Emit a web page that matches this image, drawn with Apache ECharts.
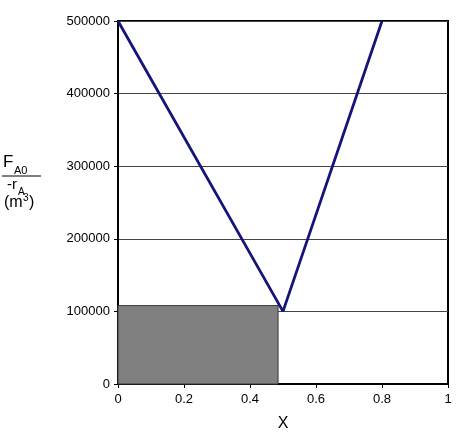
<!DOCTYPE html>
<html>
<head>
<meta charset="utf-8">
<script src="https://cdn.jsdelivr.net/npm/echarts@6/dist/echarts.min.js"></script>
<style>html,body{margin:0;padding:0;background:#fff;}#c{width:468px;height:445px;}</style>
</head>
<body>
<div id="c"></div>
<script>
var lineX = [0, 0.5, 0.8];
var lineY = [500000, 100000, 500000];
var rectX = [0, 0.485];
var rectY = [0, 108000];
var xTicks = [0, 0.2, 0.4, 0.6, 0.8, 1];
var yTicks = [0, 100000, 200000, 300000, 400000, 500000];

var chart = echarts.init(document.getElementById('c'));
var font = 'Liberation Sans, Arial, sans-serif';
chart.setOption({
  animation: false,
  backgroundColor: '#fff',
  grid: {left: 118, right: 20, top: 21, bottom: 61, show: true, borderColor: '#000', borderWidth: 2, backgroundColor: 'transparent'},
  xAxis: {
    type: 'value', min: 0, max: 1, interval: 0.2,
    name: 'X', nameLocation: 'middle', nameGap: 32,
    nameTextStyle: {fontFamily: font, fontSize: 16, color: '#000'},
    axisLine: {lineStyle: {color: '#000', width: 2}},
    axisTick: {show: true, length: 4, lineStyle: {color: '#000'}},
    axisLabel: {fontFamily: font, fontSize: 13, color: '#000', margin: 9,
      formatter: function(v){ return String(+v.toFixed(1)); }},
    splitLine: {show: false}
  },
  yAxis: {
    type: 'value', min: 0, max: 500000, interval: 100000,
    axisLine: {show: true, lineStyle: {color: '#000', width: 2}},
    axisTick: {show: true, length: 4, lineStyle: {color: '#000'}},
    axisLabel: {fontFamily: font, fontSize: 13, color: '#000', margin: 8,
      formatter: function(v){ return String(v); }},
    splitLine: {show: true, lineStyle: {color: '#444', width: 1}}
  },
  series: [
    {
      type: 'custom',
      z: 1,
      renderItem: function(params, api){
        var p0 = api.coord([api.value(0), api.value(1)]);
        var p1 = api.coord([api.value(2), api.value(3)]);
        return {type: 'rect', shape: {x: p0[0], y: p1[1], width: p1[0]-p0[0], height: p0[1]-p1[1]},
          style: {fill: '#808080', stroke: '#3a3a3a', lineWidth: 1}};
      },
      data: [[rectX[0], rectY[0], rectX[1], rectY[1]]]
    },
    {
      type: 'line', z: 3,
      data: lineX.map(function(x,i){return [x, lineY[i]];}),
      showSymbol: false, symbol: 'none',
      lineStyle: {color: '#14147a', width: 2.8}
    }
  ],
  graphic: [
    {type: 'text', left: 3, top: 154, style: {text: 'F', fontFamily: font, fontSize: 17, fill: '#000'}},
    {type: 'text', left: 14, top: 165, style: {text: 'A0', fontFamily: font, fontSize: 11, fill: '#000'}},
    {type: 'line', shape: {x1: 2, y1: 176, x2: 41, y2: 176}, style: {stroke: '#000', lineWidth: 1}},
    {type: 'text', left: 7, top: 177, style: {text: '-r', fontFamily: font, fontSize: 15, fill: '#000'}},
    {type: 'text', left: 18, top: 187, style: {text: 'A', fontFamily: font, fontSize: 10, fill: '#000'}},
    {type: 'text', left: 4, top: 195, style: {text: '(m', fontFamily: font, fontSize: 16, fill: '#000'}},
    {type: 'text', left: 23, top: 193, style: {text: '3', fontFamily: font, fontSize: 10, fill: '#000'}},
    {type: 'text', left: 29, top: 195, style: {text: ')', fontFamily: font, fontSize: 16, fill: '#000'}}
  ]
});
</script>
</body>
</html>
